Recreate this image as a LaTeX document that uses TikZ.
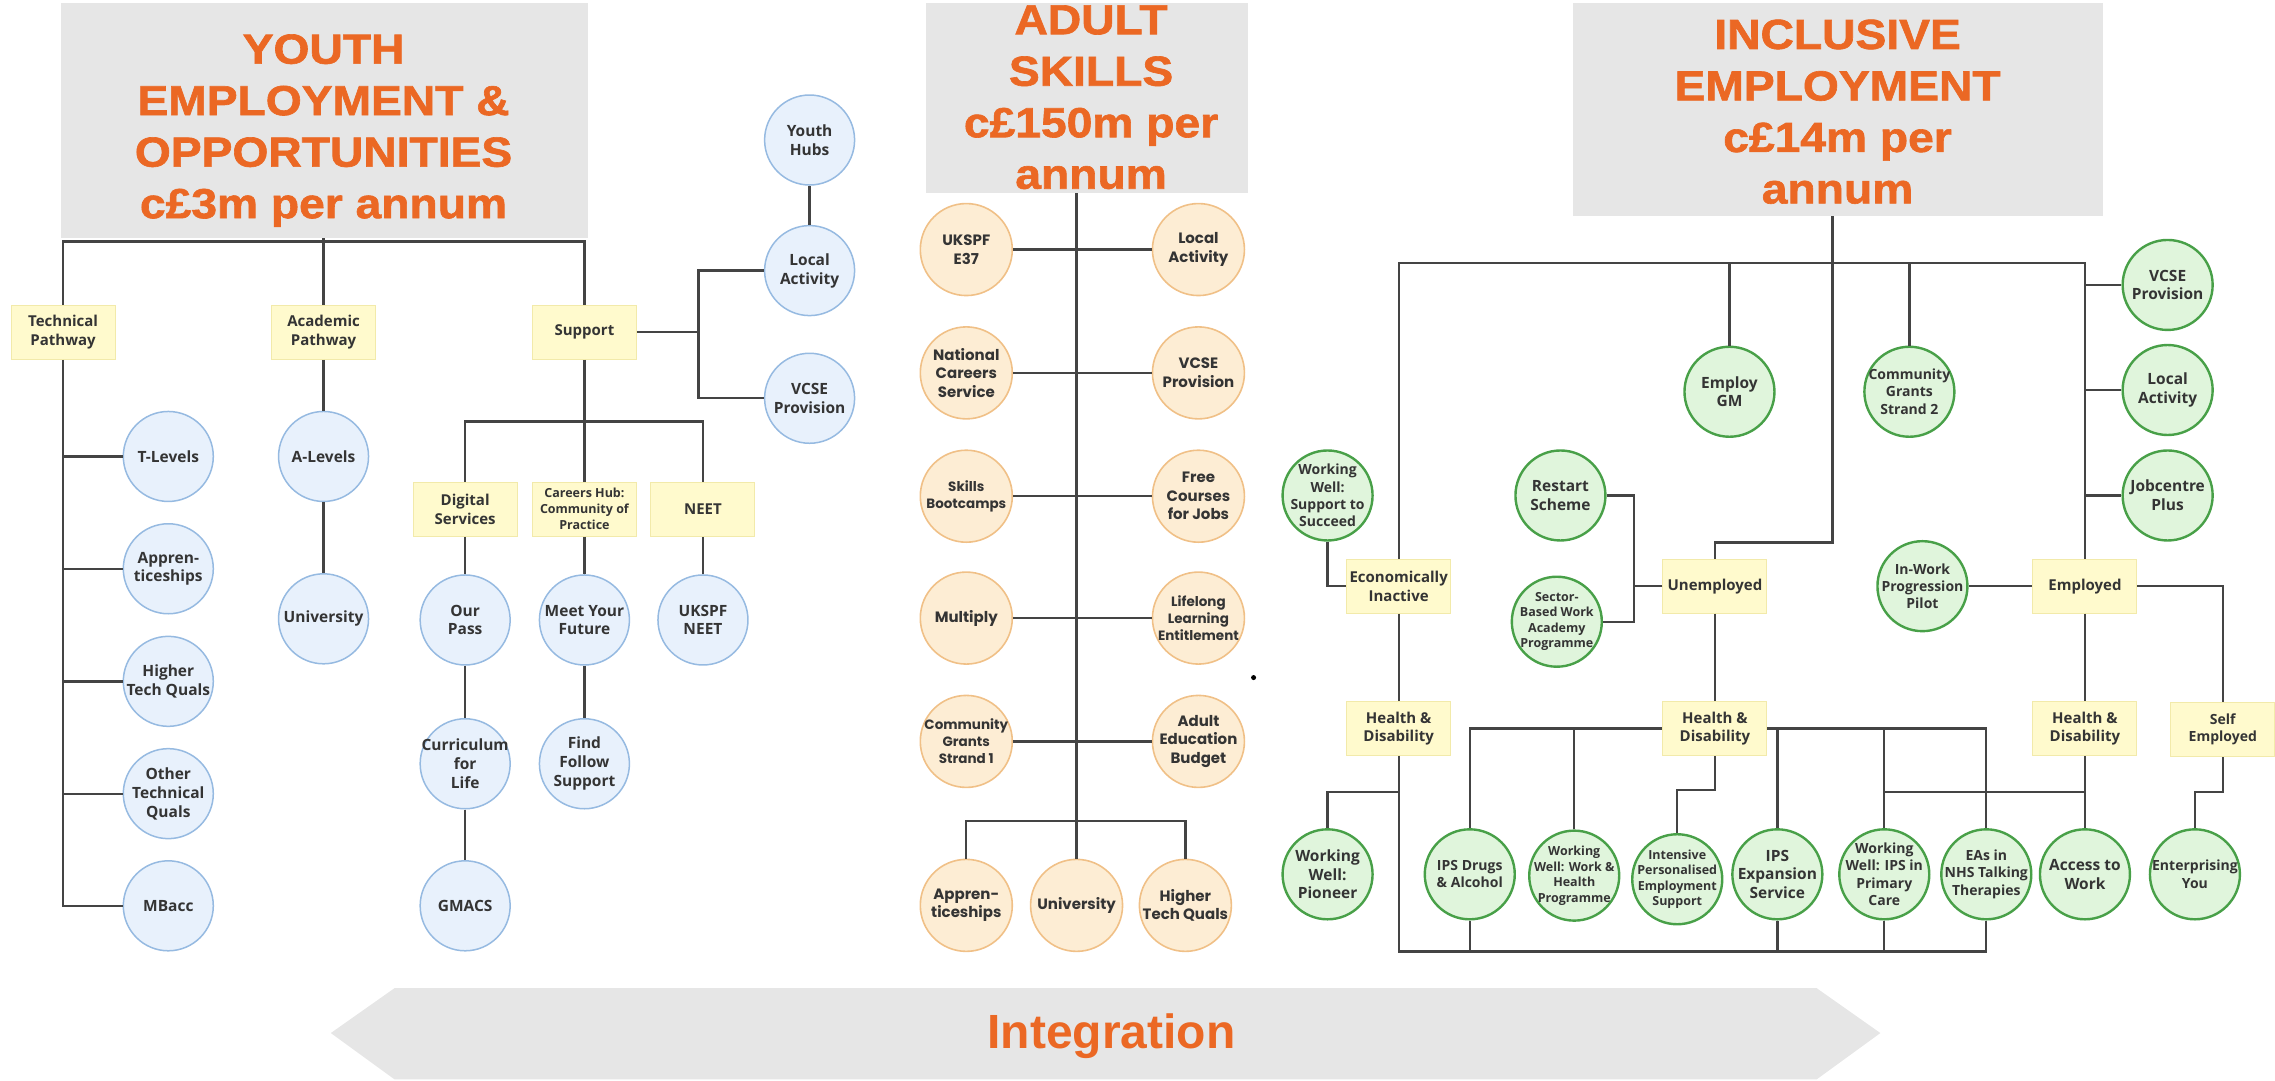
\documentclass[tikz,border=0pt]{standalone}
\usepackage{fontspec}
\setmainfont{Open Sans}
\newfontfamily\titlefont[FakeStretch=1.1,FakeBold=1.5]{Liberation Sans}
\newfontfamily\integfont{Liberation Sans}
\newfontfamily\adultfont{Poppins}
\newcommand\fsz[2]{\fontsize{#1}{#2}\selectfont}

\definecolor{titlegrey}{RGB}{230,230,230}
\definecolor{titleorange}{RGB}{235,104,36}
\definecolor{linkgrey}{RGB}{68,68,68}
\definecolor{textgrey}{RGB}{52,52,52}
\definecolor{bluefill}{RGB}{232,241,252}
\definecolor{blueline}{RGB}{150,186,225}
\definecolor{orangefill}{RGB}{253,237,212}
\definecolor{orangeline}{RGB}{240,192,135}
\definecolor{greenfill}{RGB}{224,245,220}
\definecolor{greenline}{RGB}{72,160,72}
\definecolor{yellowfill}{RGB}{255,250,205}
\definecolor{yellowline}{RGB}{242,234,170}

\tikzset{
  link/.style={draw=linkgrey, line width=2.3pt},
  youthnode/.style={circle, draw=blueline, fill=bluefill, line width=1.5pt, minimum size=90pt,
    inner sep=-20pt, align=center, text=textgrey, font=\bfseries\fsz{15.5}{18.8}},
  adultnode/.style={circle, draw=orangeline, fill=orangefill, line width=1.6pt, minimum size=92pt,
    inner sep=-20pt, align=center, text=textgrey, font=\adultfont\bfseries\fsz{15}{18.5}},
  inclnode/.style={circle, draw=greenline, fill=greenfill, line width=2.4pt, minimum size=90pt,
    inner sep=-20pt, align=center, text=textgrey, font=\bfseries\fsz{15.5}{18.8}},
  groupbox/.style={rectangle, draw=yellowline, fill=yellowfill, line width=1pt, minimum width=104pt,
    minimum height=54pt, inner sep=1pt, align=center, text=textgrey, font=\bfseries\fsz{15}{18.5}},
  titlebox/.style={rectangle, fill=titlegrey, inner sep=0pt},
  titletext/.style={align=center, text=titleorange, inner sep=0pt, font=\titlefont\bfseries\fsz{42}{51.5}},
  asmall/.style={font=\adultfont\bfseries\fsz{13.5}{16.8}},
  gsmall/.style={font=\bfseries\fsz{12.5}{15.5}},
  gmid/.style={font=\bfseries\fsz{14}{17.3}},
  ysmall/.style={font=\bfseries\fsz{12.5}{16}}
}

\begin{document}
\begin{tikzpicture}[x=1.451pt,y=-1.451pt]
  \useasboundingbox (0,0) rectangle (1568,745);

  % youth employment
  \node[titlebox, minimum width=527pt, minimum height=235pt] (youth) at (223.4,83) {};
  \node[titletext] (youthtxt) at (223,90) {YOUTH\\EMPLOYMENT \&\\OPPORTUNITIES\\c£3m per annum};
  \node[groupbox] (tech) at (43.5,229) {Technical\\Pathway};
  \node[groupbox] (acad) at (223,229) {Academic\\Pathway};
  \node[groupbox] (supp) at (402.8,229) {Support};
  \node[youthnode] (tlev) at (116,314.6) {T-Levels};
  \node[youthnode] (appr) at (116,392) {Appren-\\ticeships};
  \node[youthnode] (htq) at (116,469.6) {Higher\\Tech Quals};
  \node[youthnode] (otq) at (116,547) {Other\\Technical\\Quals};
  \node[youthnode] (mbacc) at (116,624.3) {MBacc};
  \node[youthnode] (alev) at (223,314.6) {A-Levels};
  \node[youthnode] (uni) at (223,426.5) {University};
  \node[youthnode] (yhubs) at (558,96.5) {Youth\\Hubs};
  \node[youthnode] (ylocal) at (558,186.5) {Local\\Activity};
  \node[youthnode] (yvcse) at (558,274.5) {VCSE\\Provision};
  \node[groupbox] (dig) at (320.6,351) {Digital\\Services};
  \node[groupbox, ysmall] (chub) at (402.8,351) {Careers Hub:\\Community of\\Practice};
  \node[groupbox] (neet) at (484.5,351) {NEET};
  \node[youthnode] (ourpass) at (320.6,427.3) {Our\\Pass};
  \node[youthnode] (myf) at (402.8,427.3) {Meet Your\\Future};
  \node[youthnode] (ukneet) at (484.5,427.3) {UKSPF\\NEET};
  \node[youthnode] (cfl) at (320.6,526.4) {Curriculum\\for\\Life};
  \node[youthnode] (ffs) at (402.8,526.4) {Find\\Follow\\Support};
  \node[youthnode] (gmacs) at (320.6,624.3) {GMACS};
  \coordinate (ybar) at (223,166.5);
  \coordinate (sj) at (481.5,229);
  \coordinate (sbar) at (402.8,290.6);

  \draw[link] (tech.north) |- (ybar) -| (supp.north);
  \draw[link] (youth.south -| acad) -- (acad.north);
  \draw[link] (tech.south) |- (mbacc.west);
  \foreach \n in {tlev,appr,htq,otq}
    \draw[link] (tech.south |- \n) -- (\n.west);
  \draw[link] (acad) -- (alev) -- (uni);
  \draw[link] (supp.east) -- (sj);
  \draw[link] (ylocal.west) -| (sj) |- (yvcse.west);
  \draw[link] (yhubs) -- (ylocal);
  \draw[link] (supp.south) -- (sbar);
  \draw[link] (dig.north) |- (sbar) -| (neet.north);
  \draw[link] (sbar) -- (chub.north);
  \draw[link] (dig) -- (ourpass) -- (cfl) -- (gmacs);
  \draw[link] (chub) -- (myf) -- (ffs);
  \draw[link] (neet) -- (ukneet);

  % adult skills
  \node[titlebox, minimum width=322pt, minimum height=190pt] (adult) at (749,67.5) {};
  \node[titletext] (adulttxt) at (752,67) {ADULT\\SKILLS\\c£150m per\\annum};
  \node[adultnode] (ukspf) at (666,172) {UKSPF\\E37};
  \node[adultnode] (alocal) at (826,172) {Local\\Activity};
  \node[adultnode] (ncs) at (666,257) {National\\Careers\\Service};
  \node[adultnode] (avcse) at (826,257) {VCSE\\Provision};
  \node[adultnode, asmall] (boot) at (666,342) {Skills\\Bootcamps};
  \node[adultnode] (fcj) at (826,342) {Free\\Courses\\for Jobs};
  \node[adultnode] (mult) at (666,426) {Multiply};
  \node[adultnode, asmall] (lle) at (826,426) {Lifelong\\Learning\\Entitlement};
  \node[adultnode, asmall] (cgs1) at (666,511) {Community\\Grants\\Strand 1};
  \node[adultnode] (aeb) at (826,511) {Adult\\Education\\Budget};
  \node[adultnode] (aappr) at (666,624) {Appren-\\ticeships};
  \node[adultnode] (auni) at (742,624) {University};
  \node[adultnode] (ahtq) at (817,624) {Higher\\Tech Quals};
  \coordinate (abar) at (742,566);

  \draw[link] (adult.south -| auni) -- (auni.north);
  \foreach \a/\b in {ukspf/alocal,ncs/avcse,boot/fcj,mult/lle,cgs1/aeb}
    \draw[link] (\a) -- (\b);
  \draw[link] (aappr.north) |- (abar) -| (ahtq.north);
  \fill[black] (864,467) circle (2.5pt);

  % inclusive employment
  \node[titlebox, minimum width=530pt, minimum height=213pt] (incl) at (1266.5,75.5) {};
  \node[titletext] (incltxt) at (1266.5,77) {INCLUSIVE\\EMPLOYMENT\\c£14m per\\annum};
  \node[groupbox] (econ) at (964,404) {Economically\\Inactive};
  \node[groupbox] (hdl) at (964,502) {Health \&\\Disability};
  \node[groupbox] (unemp) at (1182,404) {Unemployed};
  \node[groupbox] (hdm) at (1182,502) {Health \&\\Disability};
  \node[groupbox] (emp) at (1437,404) {Employed};
  \node[groupbox] (hdr) at (1437,502) {Health \&\\Disability};
  \node[groupbox, font=\bfseries\fsz{14}{17}] (selfemp) at (1532,503) {Self\\Employed};
  \node[inclnode, gmid] (wwss) at (915,341.5) {Working\\Well:\\Support to\\Succeed};
  \node[inclnode] (restart) at (1075.5,341.5) {Restart\\Scheme};
  \node[inclnode, gsmall] (sbwa) at (1073,428.5) {Sector-\\Based Work\\Academy\\Programme};
  \node[inclnode] (egm) at (1192,270) {Employ\\GM};
  \node[inclnode, gmid] (cgs2) at (1316,270) {Community\\Grants\\Strand 2};
  \node[inclnode] (ivcse) at (1494,196.4) {VCSE\\Provision};
  \node[inclnode] (ilocal) at (1494,268.8) {Local\\Activity};
  \node[inclnode] (jcp) at (1494,341.5) {Jobcentre\\Plus};
  \node[inclnode, gmid] (iwpp) at (1325,404) {In-Work\\Progression\\Pilot};
  \node[inclnode] (wwp) at (915,602.6) {Working\\Well:\\Pioneer};
  \node[inclnode, gmid] (ipsda) at (1013,602.6) {IPS Drugs\\\& Alcohol};
  \node[inclnode, gsmall] (wwwh) at (1085,603.5) {Working\\Well: Work \&\\Health\\Programme};
  \node[inclnode, gsmall] (ipes) at (1156,606) {Intensive\\Personalised\\Employment\\Support};
  \node[inclnode] (ipsx) at (1225,602.6) {IPS\\Expansion\\Service};
  \node[inclnode, gmid] (wwpc) at (1298.7,602.6) {Working\\Well: IPS in\\Primary\\Care};
  \node[inclnode, gmid] (eas) at (1369,602.6) {EAs in\\NHS Talking\\Therapies};
  \node[inclnode] (atw) at (1437,602.6) {Access to\\Work};
  \node[inclnode, gmid] (ey) at (1512.8,602.6) {Enterprising\\You};
  \coordinate (ibar) at (1263,181.5);
  \coordinate (ijog) at (1263,374);
  \coordinate (uj) at (1126,404);
  \coordinate (ipj) at (1182,544.6);
  \coordinate (ibus) at (1369,655.7);
  \coordinate (plj) at (964,545.8);
  \coordinate (hrj) at (1437,545.8);
  \coordinate (sej) at (1532,545.8);

  \draw[link] (incl.south -| ijog) -- (ijog) -| (unemp.north);
  \draw[link] (econ.north) |- (ibar) -| (emp.north);
  \draw[link] (egm.north) -- (egm.north |- ibar);
  \draw[link] (cgs2.north) -- (cgs2.north |- ibar);
  \foreach \n in {ivcse,ilocal,jcp}
    \draw[link] (emp.north |- \n) -- (\n.west);
  \draw[link] (iwpp) -- (emp);
  \draw[link] (emp) -- (hdr) -- (atw);
  \draw[link] (emp.east) -| (selfemp.north);
  \draw[link] (selfemp.south) -- (sej) -| (ey.north);
  \draw[link] (hrj) -| (wwpc.north);
  \draw[link] (unemp.west) -- (uj);
  \draw[link] (restart.east) -| (uj) |- (sbwa.east);
  \draw[link] (unemp) -- (hdm);
  \draw[link] (ipsda.north) |- (hdm.west);
  \draw[link] (hdm.east) -| (eas.north);
  \foreach \n in {wwwh,ipsx,wwpc}
    \draw[link] (\n.north) -- (\n.north |- hdm);
  \draw[link] (hdm.south) -- (ipj) -| (ipes.north);
  \draw[link] (wwss.south) |- (econ.west);
  \draw[link] (econ) -- (hdl);
  \draw[link] (hdl.south) |- (ibus) -- (eas.south);
  \foreach \n in {ipsda,ipsx,wwpc}
    \draw[link] (\n.south) -- (\n.south |- ibus);
  \draw[link] (plj) -| (wwp.north);

  % integration arrow
  \fill[titlegrey] (228,712) -- (272,681) -- (1252,681) -- (1296,712) -- (1252,744) -- (272,744) -- cycle;
  \node[anchor=base, inner sep=0pt, text=titleorange, font=\integfont\bfseries\fsz{48}{58}] (integ) at (766,722.4) {Integration};
\end{tikzpicture}
\end{document}
